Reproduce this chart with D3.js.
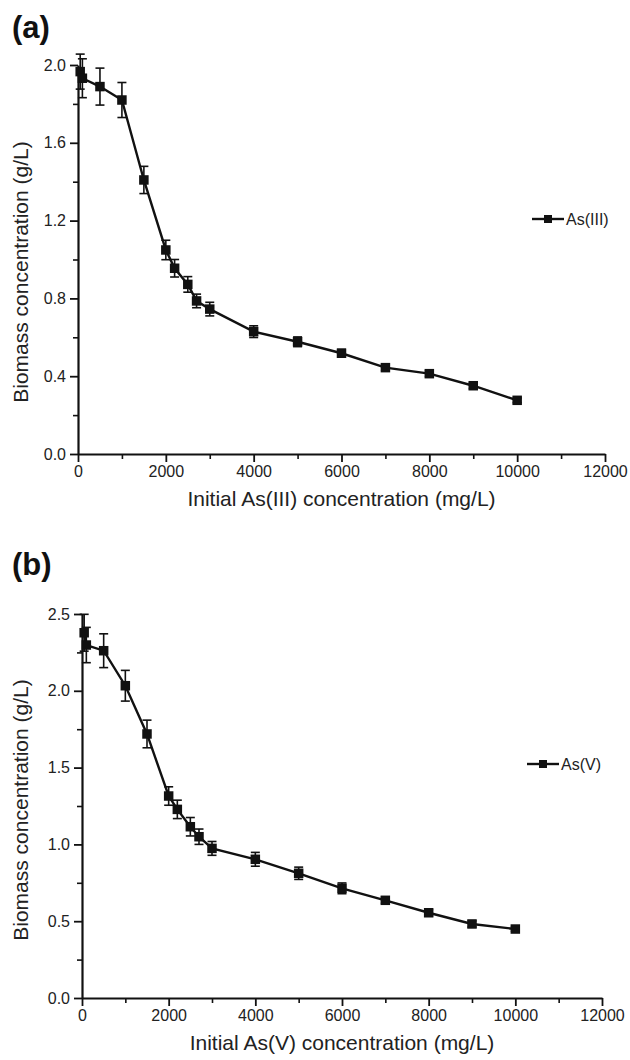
<!DOCTYPE html>
<html>
<head>
<meta charset="utf-8">
<script src="https://cdn.jsdelivr.net/npm/d3@7"></script>
<style>
  body { margin: 0; background: #fff; }
  svg { display: block; font-family: "Liberation Sans", Arial, sans-serif; }
  .axis path, .axis line { stroke: #111; }
  .axis text { fill: #222; font-size: 16px; }
</style>
</head>
<body>
<svg id="chart" width="630" height="1060"></svg>
<script>
// initial concentrations (mg/L), same for both panels
const concentrations = [50, 100, 500, 1000, 1500, 2000, 2200, 2500, 2700, 3000, 4000, 5000, 6000, 7000, 8000, 9000, 10000];

// panel (a) As(III)
const biomassA = [1.966, 1.932, 1.889, 1.82, 1.409, 1.049, 0.955, 0.872, 0.787, 0.745, 0.629, 0.577, 0.518, 0.444, 0.413, 0.351, 0.276];
const errorA   = [0.09, 0.10, 0.095, 0.09, 0.07, 0.05, 0.045, 0.04, 0.035, 0.035, 0.03, 0.025, 0.02, 0.015, 0.015, 0.015, 0.012];

// panel (b) As(V)
const biomassB = [2.378, 2.298, 2.261, 2.033, 1.719, 1.315, 1.228, 1.115, 1.05, 0.974, 0.903, 0.812, 0.714, 0.636, 0.555, 0.482, 0.449];
const errorB   = [0.12, 0.115, 0.11, 0.10, 0.09, 0.06, 0.06, 0.06, 0.05, 0.045, 0.045, 0.04, 0.035, 0.02, 0.02, 0.02, 0.015];

// ticks
const xTicks = [0, 2000, 4000, 6000, 8000, 10000, 12000];
const xMinor = [1000, 3000, 5000, 7000, 9000, 11000];
const yTicksA = [0.0, 0.4, 0.8, 1.2, 1.6, 2.0];
const yMinorA = [0.2, 0.6, 1.0, 1.4, 1.8];
const yTicksB = [0.0, 0.5, 1.0, 1.5, 2.0, 2.5];
const yMinorB = [0.25, 0.75, 1.25, 1.75, 2.25];

const svg = d3.select('#chart');
const ink = '#111';

function drawPanel(cfg) {
  const data = concentrations.map((c, i) => ({x: c, y: cfg.values[i], e: cfg.errors[i]}));

  const x = d3.scaleLinear().domain([0, 12000]).range([cfg.left, cfg.right]);
  const y = d3.scaleLinear().domain([0, cfg.yMax]).range([cfg.bottom, cfg.top]);

  const g = svg.append('g');

  // panel letter
  g.append('text')
      .attr('x', 12)
      .attr('y', cfg.letterY)
      .attr('font-size', 31)
      .attr('font-weight', 'bold')
      .attr('fill', ink)
      .text(cfg.letter);

  // minor ticks first
  g.append('g')
      .attr('class', 'axis')
      .attr('transform', `translate(0,${cfg.bottom})`)
      .call(d3.axisBottom(x).tickValues(xMinor).tickSize(5).tickFormat(''))
      .call(a => a.select('.domain').remove())
      .selectAll('line').attr('stroke-width', 1.6);

  g.append('g')
      .attr('class', 'axis')
      .attr('transform', `translate(${cfg.left},0)`)
      .call(d3.axisLeft(y).tickValues(cfg.yMinor).tickSize(5).tickFormat(''))
      .call(a => a.select('.domain').remove())
      .selectAll('line').attr('stroke-width', 1.6);

  // major axes
  const xAxisG = g.append('g')
      .attr('class', 'axis')
      .attr('transform', `translate(0,${cfg.bottom})`)
      .call(d3.axisBottom(x).tickValues(xTicks).tickSize(8).tickSizeOuter(0).tickPadding(4).tickFormat(d3.format('d')));
  xAxisG.select('.domain').attr('stroke-width', 2.2);
  xAxisG.selectAll('line').attr('stroke-width', 1.8);

  const yAxisG = g.append('g')
      .attr('class', 'axis')
      .attr('transform', `translate(${cfg.left},0)`)
      .call(d3.axisLeft(y).tickValues(cfg.yTicks).tickSize(8).tickSizeOuter(0).tickPadding(4).tickFormat(d3.format('.1f')));
  yAxisG.select('.domain').attr('stroke-width', 2.2);
  yAxisG.selectAll('line').attr('stroke-width', 1.8);

  // axis titles
  g.append('text')
      .attr('x', (cfg.left + cfg.right) / 2)
      .attr('y', cfg.bottom + 52)
      .attr('text-anchor', 'middle')
      .attr('font-size', 21)
      .attr('fill', '#222')
      .text(cfg.xTitle);

  g.append('text')
      .attr('transform', `translate(28,${cfg.yTitleMid}) rotate(-90)`)
      .attr('text-anchor', 'middle')
      .attr('font-size', 21)
      .attr('fill', '#222')
      .text('Biomass concentration (g/L)');

  // error bars
  const cap = 4.5;
  const eb = g.append('g').attr('stroke', ink).attr('stroke-width', 1.6);
  eb.selectAll('.stem').data(data).join('line')
      .attr('x1', d => x(d.x)).attr('x2', d => x(d.x))
      .attr('y1', d => y(d.y - d.e)).attr('y2', d => y(d.y + d.e));
  eb.selectAll('.capTop').data(data).join('line')
      .attr('x1', d => x(d.x) - cap).attr('x2', d => x(d.x) + cap)
      .attr('y1', d => y(d.y + d.e)).attr('y2', d => y(d.y + d.e));
  eb.selectAll('.capBot').data(data).join('line')
      .attr('x1', d => x(d.x) - cap).attr('x2', d => x(d.x) + cap)
      .attr('y1', d => y(d.y - d.e)).attr('y2', d => y(d.y - d.e));

  // line
  const line = d3.line().x(d => x(d.x)).y(d => y(d.y));
  g.append('path')
      .datum(data)
      .attr('fill', 'none')
      .attr('stroke', ink)
      .attr('stroke-width', 2.4)
      .attr('d', line);

  // square markers
  const s = 9.5;
  g.selectAll('.marker').data(data).join('rect')
      .attr('x', d => x(d.x) - s / 2)
      .attr('y', d => y(d.y) - s / 2)
      .attr('width', s)
      .attr('height', s)
      .attr('fill', ink);

  // legend
  const lg = g.append('g').attr('transform', `translate(${cfg.legendX},${cfg.legendY})`);
  lg.append('line').attr('x1', 0).attr('x2', 32).attr('y1', 0).attr('y2', 0)
      .attr('stroke', ink).attr('stroke-width', 2.4);
  lg.append('rect').attr('x', 16 - 4).attr('y', -4).attr('width', 8).attr('height', 8).attr('fill', ink);
  lg.append('text')
      .attr('x', 34)
      .attr('y', 0)
      .attr('dy', '0.35em')
      .attr('font-size', 16)
      .attr('fill', '#222')
      .text(cfg.series);
}

drawPanel({
  letter: '(a)', letterY: 38,
  values: biomassA, errors: errorA,
  left: 78, right: 605, top: 65, bottom: 454, yMax: 2.0,
  yTicks: yTicksA, yMinor: yMinorA,
  xTitle: 'Initial As(III) concentration (mg/L)',
  yTitleMid: 272,
  series: 'As(III)', legendX: 532, legendY: 219
});

drawPanel({
  letter: '(b)', letterY: 575,
  values: biomassB, errors: errorB,
  left: 82, right: 602, top: 614, bottom: 998, yMax: 2.5,
  yTicks: yTicksB, yMinor: yMinorB,
  xTitle: 'Initial As(V) concentration (mg/L)',
  yTitleMid: 810,
  series: 'As(V)', legendX: 527, legendY: 764
});
</script>
</body>
</html>
